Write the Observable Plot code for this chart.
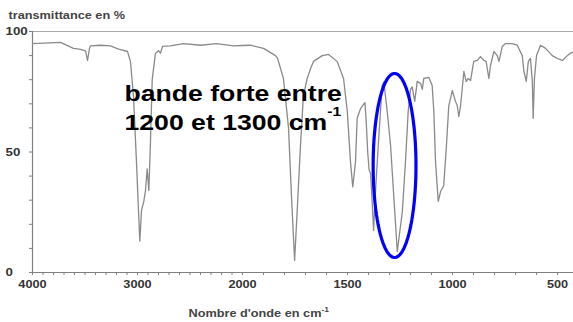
<!DOCTYPE html>
<html>
<head>
<meta charset="utf-8">
<script src="https://cdn.jsdelivr.net/npm/d3@7"></script>
<script src="https://cdn.jsdelivr.net/npm/@observablehq/plot@0.6"></script>
<style>
  html, body { margin: 0; padding: 0; background: #fff; }
  svg { display: block; }
  svg text { font-weight: bold; }
</style>
</head>
<body>
<div id="chart"></div>
<script>
// Wavenumbers (cm-1) and transmittance (%)
const wavenumber = [4000,3733,3610,3543,3495,3476,3457,3448,3352,3257,3181,3095,3067,3038,3010,2990,2978,2962,2940,2924,2908,2892,2876,2860,2829,2800,2781,2762,2686,2562,2400,2248,2086,2000,1962,1900,1843,1833,1805,1781,1767,1752,1740,1724,1710,1692,1676,1662,1620,1590,1549,1519,1501,1486,1475,1462,1454,1438,1422,1417,1411,1404,1397,1390,1383,1376,1368,1352,1335,1327,1311,1295,1280,1263,1239,1224,1211,1200,1192,1180,1168,1152,1144,1137,1113,1097,1089,1081,1068,1057,1042,1029,1018,1001,986,978,970,962,946,935,925,914,899,882,867,851,840,827,819,803,787,779,763,748,716,692,668,660,649,639,629,620,616,610,600,581,557,525,501,477,453,438,424];
const transmittance = [95,95.5,93,92.6,92,88,93,94,94.3,94,92.7,91.7,87.5,73,46,25,13,25.7,29.5,34,43,34,55,80,91,92,91,93.8,94,95,94.3,95,94,94.2,94.3,93,90,88.8,80.5,60,32,5,25,52.7,73.4,80.5,84.6,87.6,90,90.5,87.5,80.5,66.8,46,35.5,46,64,68,70,70.5,62.7,50,42.5,41,30,17.4,32,55,77.6,79,66.8,52.7,32,8.7,25.3,46,67,76,77,71,79.3,78.4,76,80.5,81,77.6,66.8,46,29.5,33.6,36,52.7,69,75.5,71,69.4,64.7,69,83.4,79.3,80.5,79.7,87.6,88,89.6,88,87.6,80.5,86,91.7,90,87.6,93.8,95,95,94.3,90,83.4,79.3,87.6,88.8,79.3,64,80.5,90,94.3,93,90,88.8,88,90,91,91.5];

// Axis ticks
const xTickValues = [4000, 3000, 2000, 1500, 1000, 500];
const xMinorTicks = d3.range(4000, 423, -100);
const yTickValues = [0, 50, 100];
const yMinorTicks = d3.range(0, 101, 10);
const xExtent = [4000, 424];

// Texts
const titleText = ["transmittance en %"];
const xLabelText = ["Nombre d'onde en cm"];
const annotationLines = ["bande forte entre", "1200 et 1300 cm"];
const annotationWavenumber = [3124, 3124];
const annotationTransmittance = [71, 59];

// Highlight ellipse (centre and half-axes in data units)
const ellipseCenter = [1276, 44.4];
const ellipseRadius = [102, 38.2];

// IR axis: the 4000–2000 cm-1 range is drawn at half scale
const warp = d3.scaleLinear().domain([4000, 2000, 0]).range([0, 1000, 3000]);

const spectrum = wavenumber.map((w, i) => ({w, t: transmittance[i]}));
const ellipse = d3.range(0, 361, 4).map(a => ({
  w: ellipseCenter[0] + ellipseRadius[0] * Math.cos(a * Math.PI / 180),
  t: ellipseCenter[1] + ellipseRadius[1] * Math.sin(a * Math.PI / 180)
}));
const annotations = annotationLines.map((s, i) => ({s, w: annotationWavenumber[i], t: annotationTransmittance[i]}));
const X = d => warp(d.w);

const chart = Plot.plot({
  width: 573,
  height: 322,
  marginLeft: 32,
  marginRight: 0,
  marginTop: 31,
  marginBottom: 50,
  style: {fontFamily: "'Liberation Sans', Arial, sans-serif", background: "#fff", overflow: "visible"},
  x: {domain: xExtent.map(warp), axis: null},
  y: {domain: [0, 100], axis: null},
  marks: [
    Plot.ruleY([100], {stroke: "#a8a8a8", strokeWidth: 1.2}),
    Plot.axisX({ticks: xMinorTicks.map(warp), tickSize: 3, tickFormat: () => "", stroke: "#808080", label: null}),
    Plot.axisY({ticks: yMinorTicks, tickSize: 3, tickFormat: () => "", stroke: "#808080", label: null}),
    Plot.ruleY([0], {stroke: "#808080", strokeWidth: 1.2}),
    Plot.ruleX([xExtent[0]], {x: d => warp(d), stroke: "#808080", strokeWidth: 1.2}),
    Plot.axisX({ticks: xTickValues.map(warp), tickSize: 0, tickPadding: 8,
      tickFormat: u => String(Math.round(warp.invert(u))),
      fontSize: 10.5, fill: "#333", label: null}),
    Plot.text(yTickValues, {y: d => d, text: d => String(d), frameAnchor: "left", dx: -27,
      textAnchor: "start", fontSize: 11, fill: "#333"}),
    Plot.line(spectrum, {x: X, y: "t", stroke: "#8a8a8a", strokeWidth: 1.3}),
    Plot.line(ellipse, {x: X, y: "t", stroke: "#0000ff", strokeWidth: 3.2}),
    Plot.text(annotations.slice(0, 1), {x: X, y: "t", text: "s", textAnchor: "start",
      lineAnchor: "bottom", fontSize: 22, fill: "#000"}),
    Plot.text(annotations.slice(1), {x: X, y: "t", text: "s", textAnchor: "start",
      lineAnchor: "bottom", fontSize: 22, fill: "#000", className: "annot-sup"}),
    Plot.text(titleText, {frameAnchor: "top-left", dx: -24, dy: -13, textAnchor: "start",
      lineAnchor: "bottom", fontSize: 10.5, fill: "#444"}),
    Plot.text(xLabelText, {frameAnchor: "bottom-left", dx: 156, dy: 44, textAnchor: "start",
      lineAnchor: "bottom", fontSize: 10.5, fill: "#444", className: "xlab-sup"})
  ]
});

document.getElementById("chart").append(chart);

// superscript exponents
d3.select(chart).selectAll(".annot-sup text").append("tspan")
  .attr("dy", -14).attr("font-size", 13).text("-1");
d3.select(chart).selectAll(".xlab-sup text").append("tspan")
  .attr("dy", -4.5).attr("font-size", 7).text("-1");

// the reference lettering is horizontally stretched
chart.querySelectorAll("text").forEach(t => {
  const w = t.getComputedTextLength();
  if (w > 0) {
    t.setAttribute("textLength", (w * 1.21).toFixed(1));
    t.setAttribute("lengthAdjust", "spacingAndGlyphs");
  }
});
</script>
</body>
</html>
